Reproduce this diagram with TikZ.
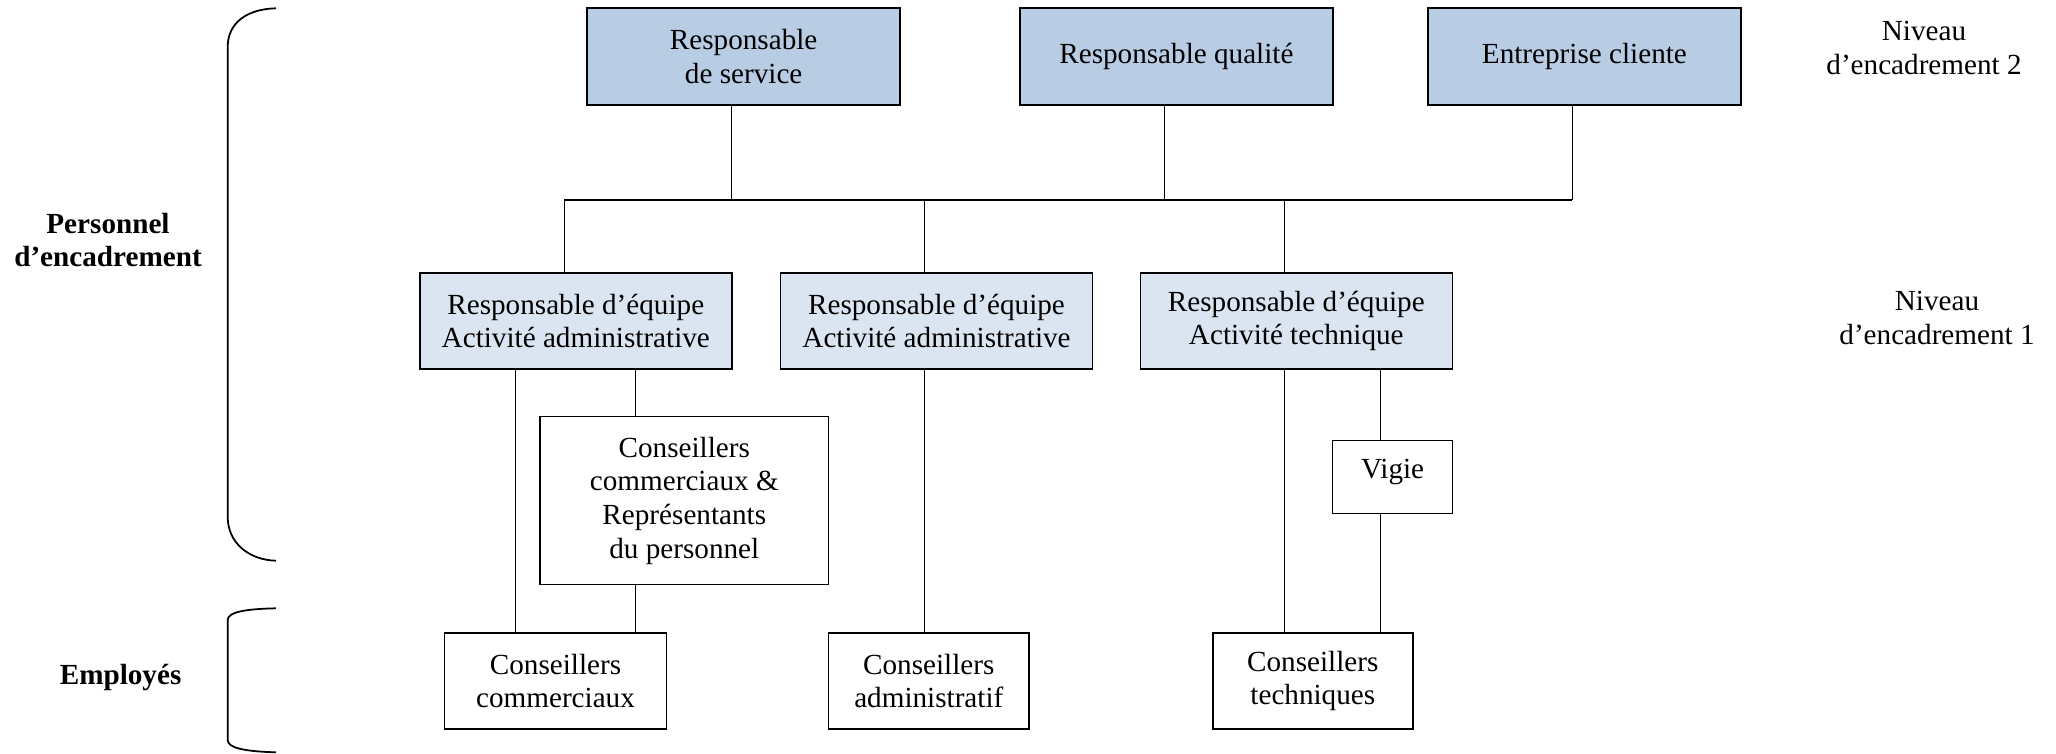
\documentclass[tikz,border=0pt]{standalone}
\usepackage{fontspec}
\setmainfont{Liberation Serif}
\usetikzlibrary{positioning,calc}
\definecolor{chefbleu}{HTML}{B8CCE4}
\definecolor{equipebleu}{HTML}{DBE5F1}

\begin{document}
\begin{tikzpicture}[
    chef/.style={draw,line width=0.45pt,fill=chefbleu,minimum width=3.13cm,minimum height=0.97cm,align=center,inner sep=0pt,font=\fontsize{8.3}{9.6}\selectfont},
    equipe/.style={draw,line width=0.45pt,fill=equipebleu,minimum width=3.12cm,minimum height=0.96cm,align=center,inner sep=0pt,font=\fontsize{8.3}{9.6}\selectfont},
    poste/.style={draw,line width=0.45pt,fill=white,minimum height=0.96cm,align=center,inner sep=0pt,font=\fontsize{8.3}{9.6}\selectfont},
    lien/.style={draw,line width=0.3pt},
    niveau/.style={align=center,font=\fontsize{8.3}{9.6}\selectfont},
    groupe/.style={align=center,font=\fontsize{8.3}{9.6}\selectfont\bfseries},
    accolade/.style={draw,line width=0.5pt}
  ]
    \useasboundingbox (0,0) rectangle (20.56,-7.54);

    % Niveau d'encadrement 2
    \node[chef] (svc) at (7.437,-0.565) {Responsable\\de service};
    \node[chef] (qual) at (11.764,-0.565) {Responsable qualité};
    \node[chef] (ent) at (15.844,-0.565) {Entreprise cliente};

    % Niveau d'encadrement 1
    \node[equipe] (re1) at (5.758,-3.209) {Responsable d’équipe\\Activité administrative};
    \node[equipe] (re2) at (9.365,-3.209) {Responsable d’équipe\\Activité administrative};
    \node[equipe] (re3) at (12.963,-3.209) {Responsable d’équipe\\Activité technique};

    % Postes intermediaires
    \node[poste,minimum width=2.885cm,minimum height=1.68cm] (ccr) at (6.843,-5.007) {Conseillers\\commerciaux \&\\Représentants\\du personnel};
    \node[poste,minimum width=1.2cm,minimum height=0.726cm,text depth=4.6pt] (vig) at (13.926,-4.77) {Vigie};

    % Employes
    \node[poste,minimum width=2.22cm] (cc) at (5.555,-6.809) {Conseillers\\commerciaux};
    \node[poste,minimum width=2.005cm] (ca) at (9.288,-6.809) {Conseillers\\administratif};
    \node[poste,minimum width=2.0cm] (ct) at (13.128,-6.809) {Conseillers\\techniques};

    % Barre de liaison
    \coordinate (bus) at (0,-2.00);
    \draw[lien] ([xshift=-1.22mm]svc.south) -- ([xshift=-1.22mm]svc.south |- bus);
    \draw[lien] ([xshift=-1.21mm]qual.south) -- ([xshift=-1.21mm]qual.south |- bus);
    \draw[lien] ([xshift=-1.2mm]ent.south) -- ([xshift=-1.2mm]ent.south |- bus);
    \draw[lien] ([xshift=-1.14mm]re1.north |- bus) -- ([xshift=-1.2mm]ent.south |- bus);
    \draw[lien] ([xshift=-1.14mm]re1.north |- bus) -- ([xshift=-1.14mm]re1.north);
    \draw[lien] ([xshift=-1.18mm]re2.north |- bus) -- ([xshift=-1.18mm]re2.north);
    \draw[lien] ([xshift=-1.15mm]re3.north |- bus) -- ([xshift=-1.15mm]re3.north);

    % Liens vers les employes
    \draw[lien] ([xshift=-6.05mm]re1.south) -- ([xshift=-6.05mm]re1.south |- cc.north);
    \draw[lien] ([xshift=6mm]re1.south) -- ([xshift=6mm]re1.south |- ccr.north);
    \draw[lien] ([xshift=6mm]re1.south |- ccr.south) -- ([xshift=6mm]re1.south |- cc.north);
    \draw[lien] ([xshift=-1.18mm]re2.south) -- ([xshift=-1.18mm]re2.south |- ca.north);
    \draw[lien] ([xshift=-1.15mm]re3.south) -- ([xshift=-1.15mm]re3.south |- ct.north);
    \draw[lien] ([xshift=-1.21mm]vig.north |- re3.south) -- ([xshift=-1.21mm]vig.north);
    \draw[lien] ([xshift=-1.21mm]vig.south) -- ([xshift=-1.21mm]vig.south |- ct.north);

    % Accolades
    \draw[accolade] (2.76,-0.083) .. controls (2.48,-0.09) and (2.277,-0.22) .. (2.277,-0.47) -- (2.277,-5.17) .. controls (2.277,-5.42) and (2.48,-5.60) .. (2.76,-5.607);
    \draw[accolade] (2.76,-6.083) .. controls (2.45,-6.09) and (2.277,-6.12) .. (2.277,-6.20) -- (2.277,-7.40) .. controls (2.277,-7.48) and (2.45,-7.515) .. (2.76,-7.523);

    % Libelles
    \node[groupe] (perso) at (1.08,-2.40) {Personnel\\d’encadrement};
    \node[groupe] (empl) at (1.206,-6.78) {Employés};
    \node[niveau] (niv2) at (19.24,-0.48) {Niveau\\d’encadrement 2};
    \node[niveau] (niv1) at (19.37,-3.18) {Niveau\\d’encadrement 1};
\end{tikzpicture}
\end{document}
